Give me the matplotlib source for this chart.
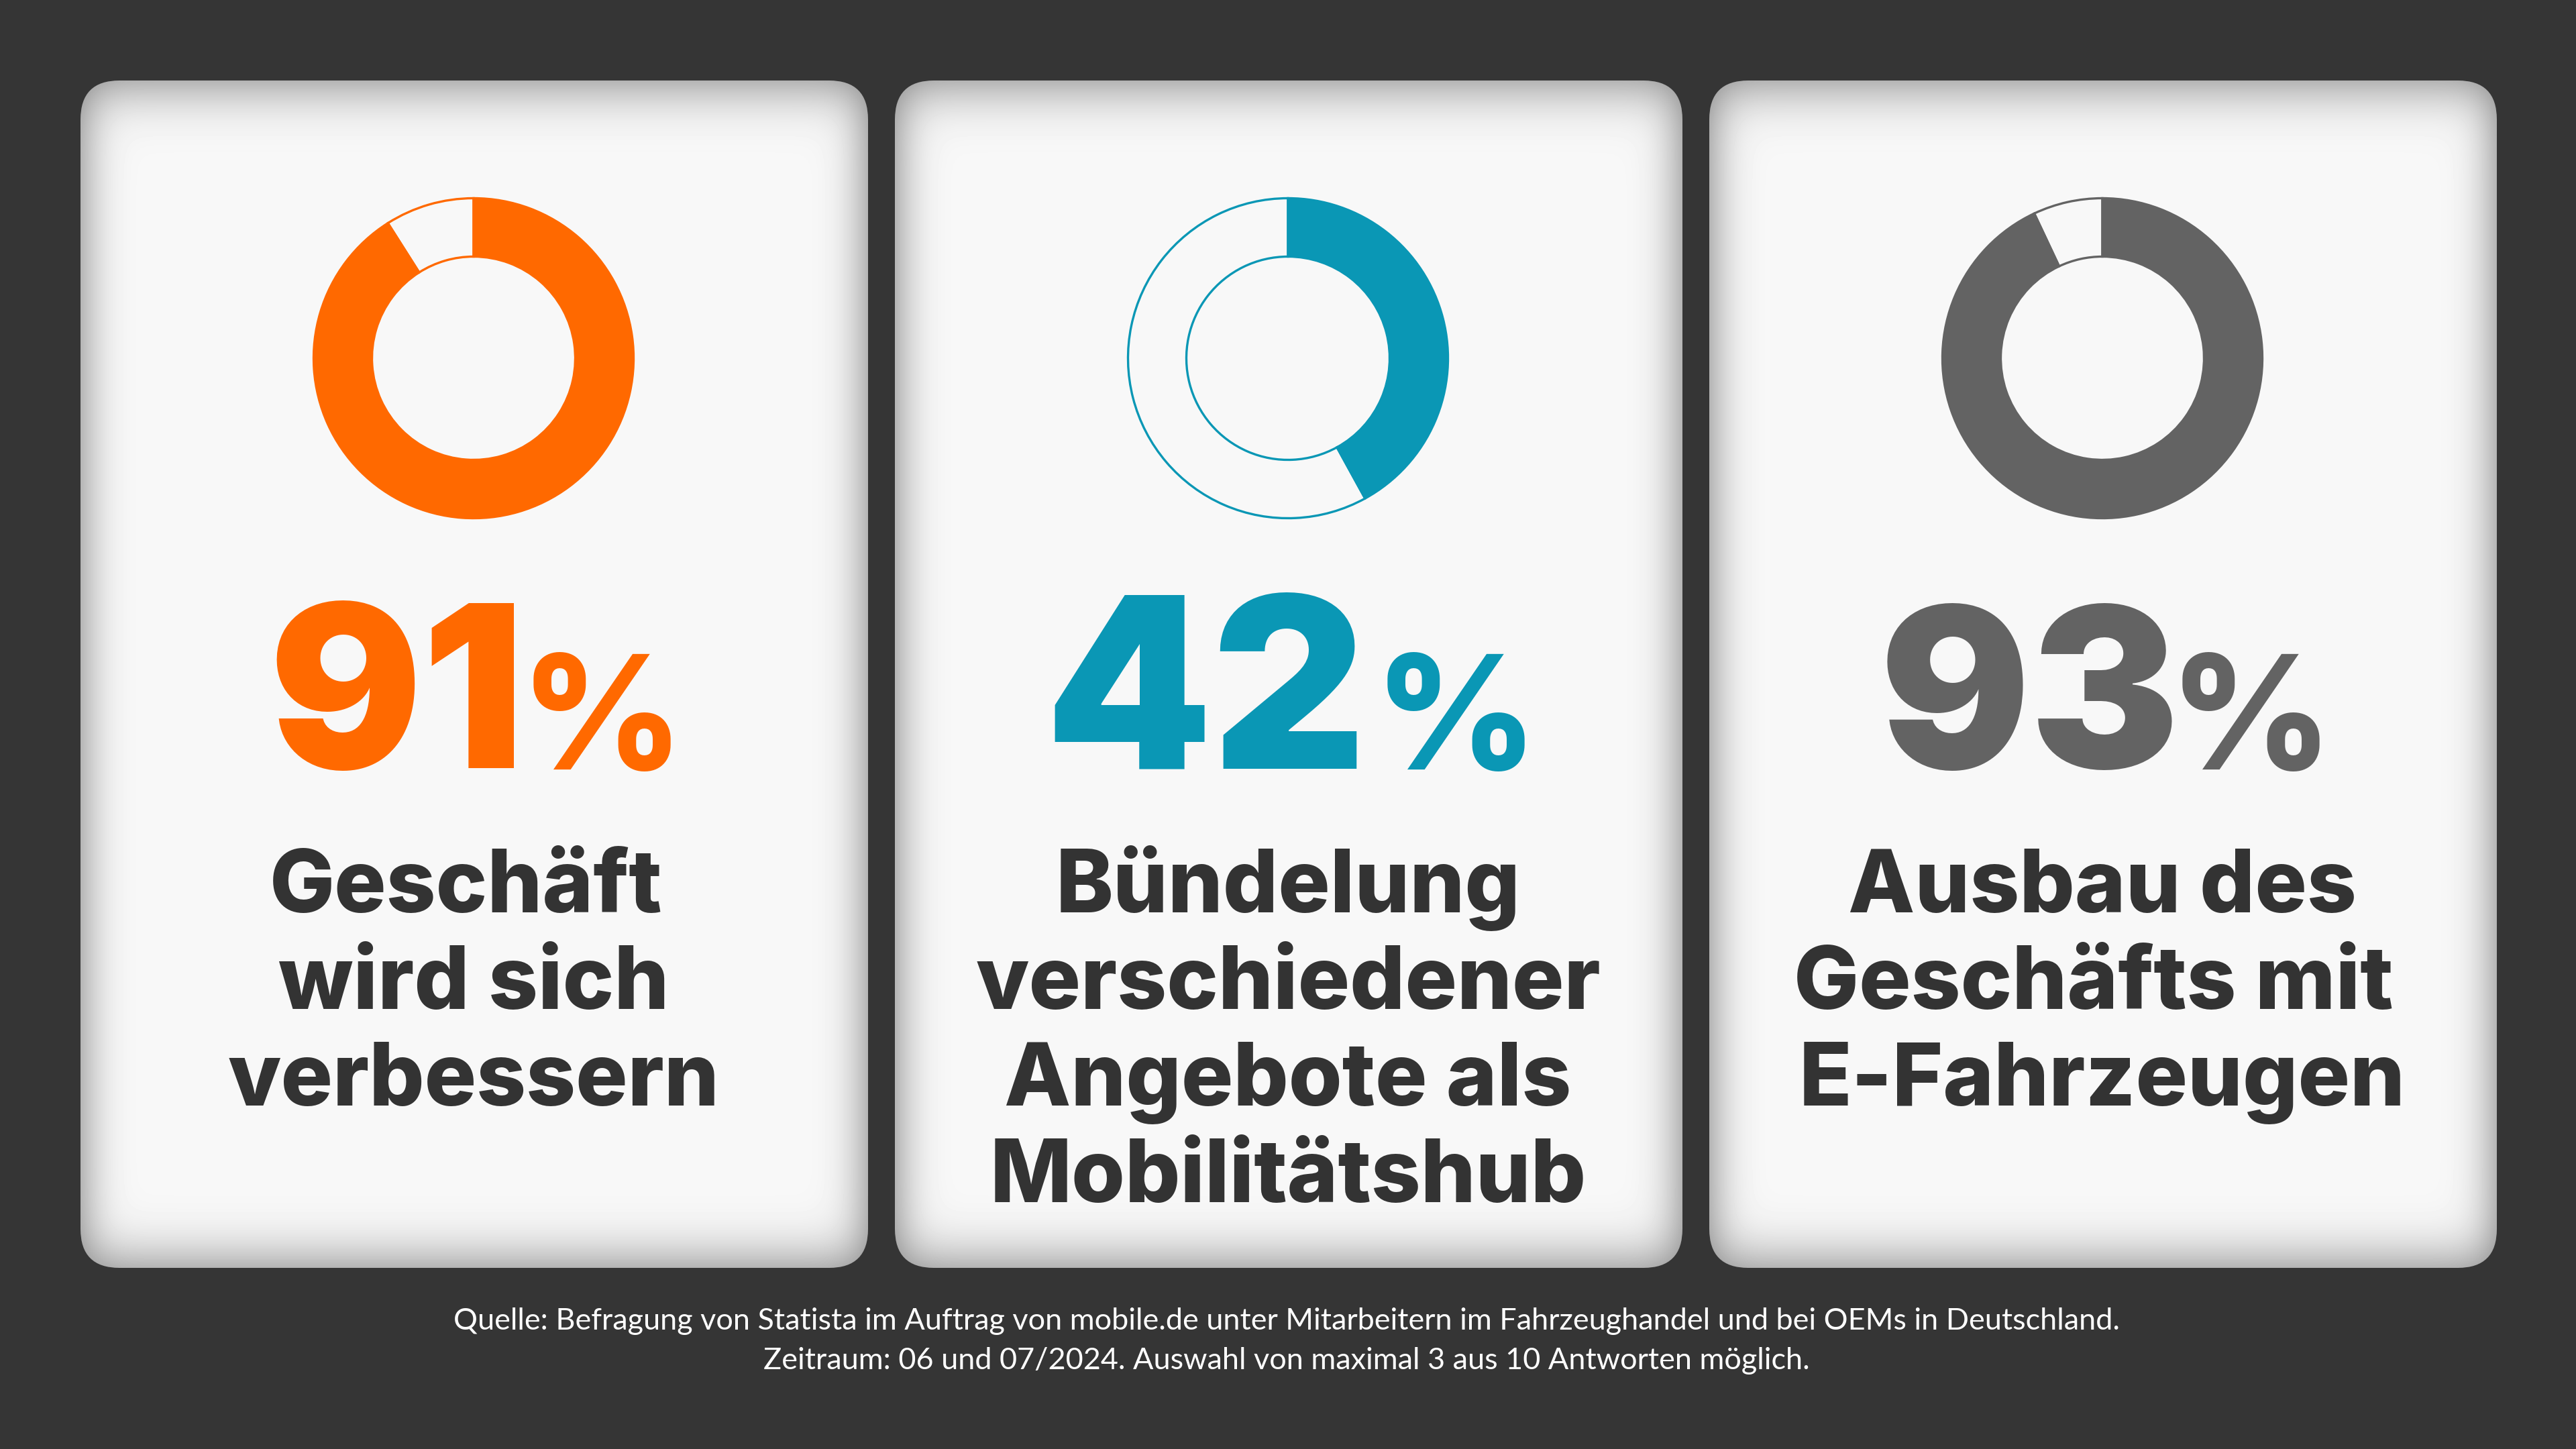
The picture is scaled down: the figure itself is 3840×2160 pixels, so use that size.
import math
import numpy as np
import matplotlib
matplotlib.use("Agg")
import matplotlib.pyplot as plt
from matplotlib.patches import FancyBboxPatch

values = [91, 42, 93]
value_labels = ["91", "42", "93"]
colors = ["#FF6900", "#0A97B5", "#636363"]
labels = [
    ["Geschäft", "wird sich", "verbessern"],
    ["Bündelung", "verschiedener", "Angebote als", "Mobilitätshub"],
    ["Ausbau des", "Geschäfts mit", "E-Fahrzeugen"],
]
source = [
    "Quelle: Befragung von Statista im Auftrag von mobile.de unter Mitarbeitern im Fahrzeughandel und bei OEMs in Deutschland.",
    "Zeitraum: 06 und 07/2024. Auswahl von maximal 3 aus 10 Antworten möglich.",
]

BG = "#353535"
W, H = 3840, 2160
CARD_W, CARD_H = 1174, 1770
CARD_X = [120, 1334, 2548]
CARD_Y = 120
CENTERS = [706, 1920, 3134]
NUM_X = [591, 1797, 3026]
NUM_SIZE = [122, 128, 120]
PCT_X = [897, 2170, 3355]
LINE_SHIFT = {(0, 0): -11, (2, 1): -13}

fig = plt.figure(figsize=(19.2, 10.8), dpi=200, facecolor=BG)
ax = fig.add_axes([0, 0, 1, 1])
ax.set_xlim(0, W); ax.set_ylim(H, 0); ax.axis("off")

erf = np.vectorize(math.erf)
xs = np.arange(W) + .5
ys = np.arange(H) + .5
for x0 in CARD_X:
    bx = .5 * (erf((xs - x0) / 48) - erf((xs - x0 - CARD_W) / 48))
    by = .5 * (erf((ys - CARD_Y) / 62) - erf((ys - CARD_Y - CARD_H) / 62))
    shade = 248 - 136 * (1 - np.outer(by, bx))
    im = ax.imshow(shade, cmap="gray", vmin=0, vmax=255, extent=(0, W, H, 0), zorder=1, aspect="auto")
    rad = 58
    clip = FancyBboxPatch((x0 + rad, CARD_Y + rad), CARD_W - 2 * rad, CARD_H - 2 * rad,
                          boxstyle=f"round,pad={rad},rounding_size={rad}", fc="none", ec="none",
                          transform=ax.transData)
    ax.add_patch(clip)
    im.set_clip_path(clip)
ax.set_xlim(0, W); ax.set_ylim(H, 0)

for i in range(3):
    cx = CENTERS[i]
    a = fig.add_axes([(cx - 245) / W, 1 - (534 + 245) / H, 490 / W, 490 / H])
    a.pie([values[i], 100 - values[i]], colors=[colors[i], "none"], radius=238.5, startangle=90,
          counterclock=False, center=(0, 0), frame=False,
          wedgeprops=dict(width=87, edgecolor=colors[i], linewidth=1.2))
    a.set_xlim(-245, 245); a.set_ylim(-245, 245); a.set_aspect("equal"); a.axis("off")

for i in range(3):
    ax.text(NUM_X[i], 1145, value_labels[i], fontsize=NUM_SIZE[i], family="Inter", weight=900,
            color=colors[i], ha="center", va="baseline", zorder=5)
    ax.text(PCT_X[i], 1147, "%", fontsize=85, family="Inter", weight=800,
            color=colors[i], ha="center", va="baseline", zorder=5)
    for j, line in enumerate(labels[i]):
        ax.text(CENTERS[i] + LINE_SHIFT.get((i, j), 0), 1360 + 144 * j, line, fontsize=46.5,
                family="Inter", weight=800, color="#333333", ha="center", va="baseline", zorder=5)
for k, line in enumerate(source):
    ax.text(1918, 1982 + 59 * k, line, fontsize=16.2, family="Lato", color="white",
            ha="center", va="baseline", zorder=5)

fig.savefig("out.png", dpi=200, facecolor=BG)
